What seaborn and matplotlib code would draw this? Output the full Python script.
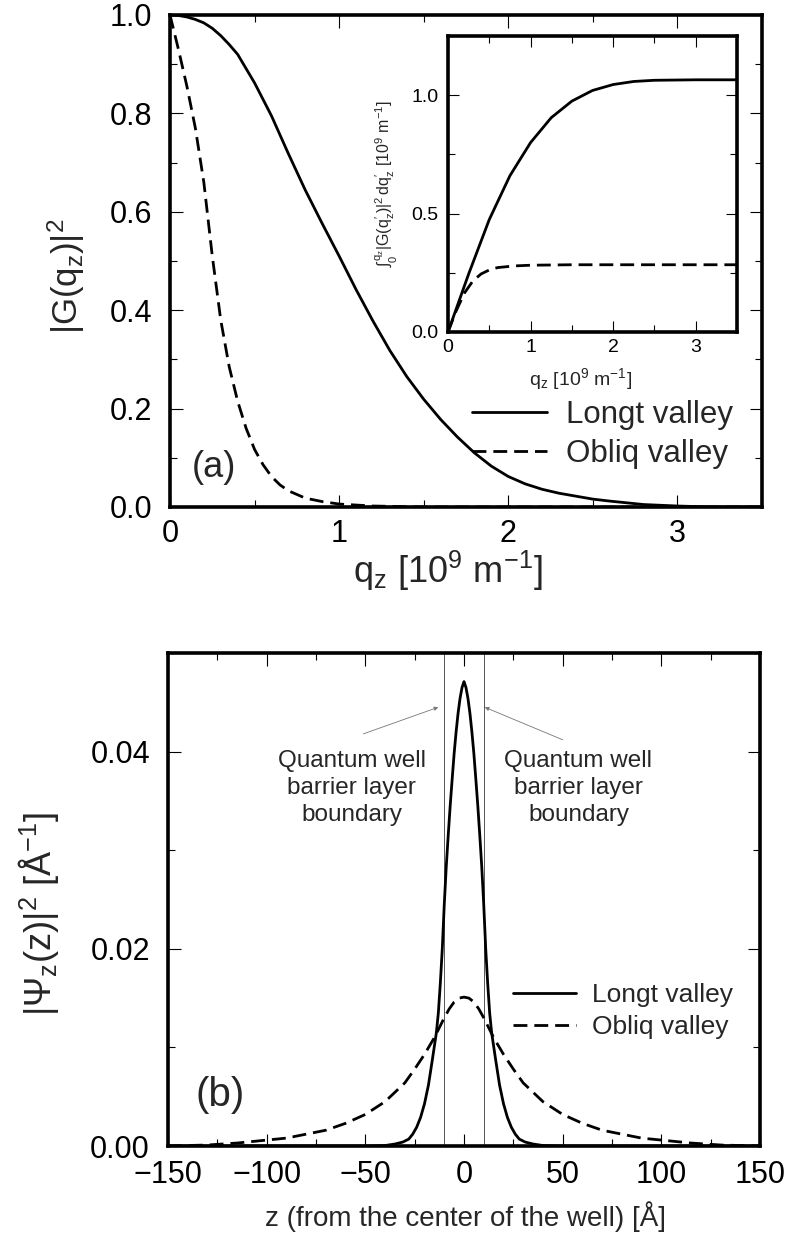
import numpy as np
import pandas as pd
import seaborn as sns
import matplotlib.pyplot as plt
from matplotlib.ticker import MultipleLocator

sns.set_style('ticks')
plt.rcParams['font.family'] = ['Liberation Sans', 'DejaVu Sans']
plt.rcParams['mathtext.fontset'] = 'custom'
plt.rcParams['mathtext.rm'] = 'Liberation Sans'
plt.rcParams['mathtext.it'] = 'Liberation Sans:italic'
plt.rcParams['mathtext.default'] = 'regular'

# (a) |G(qz)|^2
q_long = [0.0, 0.05, 0.1, 0.15, 0.2, 0.25, 0.3, 0.35, 0.4, 0.5, 0.6, 0.7, 0.8, 0.9, 1.0, 1.1,
          1.2, 1.3, 1.4, 1.5, 1.6, 1.7, 1.8, 1.9, 2.0, 2.1, 2.2, 2.3, 2.4, 2.5, 2.6, 2.8, 3.0,
          3.2, 3.5]
g_long = [1.0, 0.999, 0.996, 0.991, 0.984, 0.973, 0.958, 0.94, 0.92, 0.862, 0.795, 0.718,
          0.644, 0.576, 0.51, 0.442, 0.378, 0.318, 0.265, 0.219, 0.178, 0.142, 0.110, 0.083,
          0.062, 0.047, 0.036, 0.028, 0.022, 0.016, 0.012, 0.005, 0.002, 0.0, 0.0]
q_obl = [0.0, 0.05, 0.10, 0.15, 0.20, 0.25, 0.30, 0.35, 0.40, 0.45, 0.50, 0.55, 0.60, 0.65,
         0.70, 0.80, 0.90, 1.00, 1.20, 1.50, 3.5]
g_obl = [1.0, 0.93, 0.855, 0.77, 0.66, 0.51, 0.38, 0.285, 0.215, 0.16, 0.117, 0.086, 0.062,
         0.045, 0.033, 0.018, 0.011, 0.006, 0.002, 0.0, 0.0]

# inset: cumulative integral
qi_long = [0, 0.25, 0.5, 0.75, 1.0, 1.25, 1.5, 1.75, 2.0, 2.25, 2.5, 3.0, 3.5]
int_long = [0, 0.245, 0.475, 0.66, 0.80, 0.905, 0.975, 1.02, 1.045, 1.058, 1.063, 1.065, 1.065]
qi_obl = [0, 0.1, 0.2, 0.3, 0.4, 0.5, 0.6, 0.8, 1.0, 1.5, 3.5]
int_obl = [0, 0.09, 0.165, 0.215, 0.245, 0.262, 0.272, 0.279, 0.282, 0.284, 0.284]

# (b) |Psi_z(z)|^2
z_long = [-150, -50, -40, -35, -31, -28, -26, -24, -22, -20, -18, -16, -14, -13, -12, -11, -10,
          -9, -8, -7, -6, -5, -4, -3, -2, -1, 0, 1, 2, 3, 4, 5, 6, 7, 8, 9, 10, 11, 12, 13, 14,
          16, 18, 20, 22, 24, 26, 28, 31, 35, 40, 50, 150]
psi_long = [0, 0, 0.00005, 0.0002, 0.0004, 0.0007, 0.0012, 0.0019, 0.0029, 0.0043, 0.0062,
            0.0088, 0.0115, 0.0135, 0.0165, 0.020, 0.0245, 0.0283, 0.0315, 0.0345, 0.0372,
            0.0398, 0.042, 0.0439, 0.0454, 0.0465, 0.0471, 0.0465, 0.0454, 0.0439, 0.042,
            0.0398, 0.0372, 0.0345, 0.0315, 0.0283, 0.0245, 0.020, 0.0165, 0.0135, 0.0115,
            0.0088, 0.0062, 0.0043, 0.0029, 0.0019, 0.0012, 0.0007, 0.0004, 0.0002, 0.00005,
            0, 0]
z_obl = [-150, -130, -115, -100, -90, -80, -70, -60, -50, -40, -30, -25, -20, -15, -10, -7.5,
         -5, -2.5, 0, 2.5, 5, 7.5, 10, 15, 20, 25, 30, 40, 50, 60, 70, 80, 90, 100, 115, 130, 150]
psi_obl = [0, 0.0001, 0.0003, 0.0006, 0.0008, 0.0012, 0.0016, 0.0023, 0.0032, 0.0045, 0.0064,
           0.0078, 0.0093, 0.011, 0.013, 0.0139, 0.0146, 0.0150, 0.0151, 0.0150, 0.0146,
           0.0139, 0.013, 0.011, 0.0093, 0.0078, 0.0064, 0.0045, 0.0032, 0.0023, 0.0016,
           0.0012, 0.0008, 0.0006, 0.0003, 0.0001, 0]
well_edges = [-10, 10]

W, H = 789, 1234
fig = plt.figure(figsize=(W / 100, H / 100), dpi=100)
ax1 = fig.add_axes([170 / W, 1 - 507 / H, 592 / W, 492 / H])
axi = fig.add_axes([448 / W, 1 - 332 / H, 289 / W, 296 / H])
ax2 = fig.add_axes([168 / W, 1 - 1146 / H, 592 / W, 493 / H])

lw = 2.0
dash = (5, 2.5)


def style(ax, lab, spw=2.6, L=9, l=5):
    for s in ax.spines.values():
        s.set_linewidth(spw)
        s.set_color('black')
    ax.tick_params(which='both', direction='in', top=True, right=True, width=0.8,
                   colors='black', labelsize=lab)
    ax.tick_params(which='major', length=L)
    ax.tick_params(which='minor', length=l)


sns.lineplot(x=q_long, y=g_long, ax=ax1, color='black', lw=lw, label='Longt valley')
sns.lineplot(x=q_obl, y=g_obl, ax=ax1, color='black', lw=lw, label='Obliq valley')
ax1.lines[1].set_dashes(dash)
ax1.set_xlim(0, 3.5)
ax1.set_ylim(0, 1.0)
ax1.xaxis.set_major_locator(MultipleLocator(1))
ax1.xaxis.set_minor_locator(MultipleLocator(0.5))
ax1.yaxis.set_major_locator(MultipleLocator(0.2))
ax1.yaxis.set_minor_locator(MultipleLocator(0.1))
ax1.yaxis.set_major_formatter(plt.FormatStrFormatter('%.1f'))
style(ax1, 22)
ax1.tick_params(axis='y', pad=13)
ax1.tick_params(axis='x', pad=9)
ax1.set_xlabel('q$_z$ [10$^9$ m$^{-1}$]', fontsize=26)
ax1.set_ylabel('$|G(q_z)|^2$', fontsize=25)
ax1.xaxis.set_label_coords(0.47, -0.085)
ax1.yaxis.set_label_coords(-0.14, 0.47)
ax1.text(0.037, 0.081, '(a)', transform=ax1.transAxes, fontsize=26, va='center')
ax1.legend(loc='upper left', bbox_to_anchor=(0.51, 0.218), frameon=False, fontsize=22.5,
           handlelength=2.4, handletextpad=0.6, labelspacing=0.3, borderpad=0,
           borderaxespad=0)

sns.lineplot(x=qi_long, y=int_long, ax=axi, color='black', lw=lw)
sns.lineplot(x=qi_obl, y=int_obl, ax=axi, color='black', lw=lw)
axi.lines[1].set_dashes(dash)
axi.set_xlim(0, 3.5)
axi.set_ylim(0, 1.25)
axi.xaxis.set_major_locator(MultipleLocator(1))
axi.xaxis.set_minor_locator(MultipleLocator(0.5))
axi.yaxis.set_major_locator(MultipleLocator(0.5))
axi.yaxis.set_minor_locator(MultipleLocator(0.25))
axi.yaxis.set_major_formatter(plt.FormatStrFormatter('%.1f'))
style(axi, 14, spw=2.6, L=8, l=5)
axi.tick_params(axis='y', pad=7)
axi.tick_params(axis='x', pad=5)
axi.set_xlabel('q$_z$ [10$^9$ m$^{-1}$]', fontsize=14)
axi.set_ylabel("$\\int_0^{q_z} |G(q_z')|^2\\, dq_z'$ [10$^9$ m$^{-1}$]", fontsize=11.5)
axi.xaxis.set_label_coords(0.457, -0.115)
axi.yaxis.set_label_coords(-0.165, 0.5)

for zb in well_edges:
    ax2.axvline(zb, color='#555555', lw=0.7)
sns.lineplot(x=z_long, y=psi_long, ax=ax2, color='black', lw=lw, label='Longt valley')
sns.lineplot(x=z_obl, y=psi_obl, ax=ax2, color='black', lw=lw, label='Obliq valley')
ax2.lines[-1].set_dashes(dash)
ax2.set_xlim(-150, 150)
ax2.set_ylim(0, 0.05)
ax2.xaxis.set_major_locator(MultipleLocator(50))
ax2.xaxis.set_minor_locator(MultipleLocator(25))
ax2.yaxis.set_major_locator(MultipleLocator(0.02))
ax2.yaxis.set_minor_locator(MultipleLocator(0.01))
ax2.yaxis.set_major_formatter(plt.FormatStrFormatter('%.2f'))
style(ax2, 22)
ax2.tick_params(axis='y', pad=13)
ax2.tick_params(axis='x', pad=10)
ax2.set_xlabel('z (from the center of the well) [Å]', fontsize=20)
ax2.set_ylabel('$|\\Psi_z(z)|^2$ [Å$^{-1}$]', fontsize=26)
ax2.xaxis.set_label_coords(0.503, -0.112)
ax2.yaxis.set_label_coords(-0.18, 0.47)
ax2.text(0.046, 0.103, '(b)', transform=ax2.transAxes, fontsize=29, va='center')
ax2.legend(loc='upper left', bbox_to_anchor=(0.583, 0.33), frameon=False, fontsize=19,
           handlelength=2.4, handletextpad=0.6, labelspacing=0.3, borderpad=0,
           borderaxespad=0)

txt = 'Quantum well\nbarrier layer\nboundary'
arr = dict(arrowstyle='-|>', color='#777777', lw=0.6, mutation_scale=6, shrinkA=0, shrinkB=0)
ax2.text(-57, 0.0363, txt, ha='center', va='center', fontsize=17.5, linespacing=1.3)
ax2.text(58, 0.0363, txt, ha='center', va='center', fontsize=17.5, linespacing=1.3)
ax2.annotate('', xy=(-13, 0.0445), xytext=(-51, 0.0418), arrowprops=arr)
ax2.annotate('', xy=(10.5, 0.0445), xytext=(50, 0.0412), arrowprops=arr)

fig.savefig('out.png', dpi=100)
